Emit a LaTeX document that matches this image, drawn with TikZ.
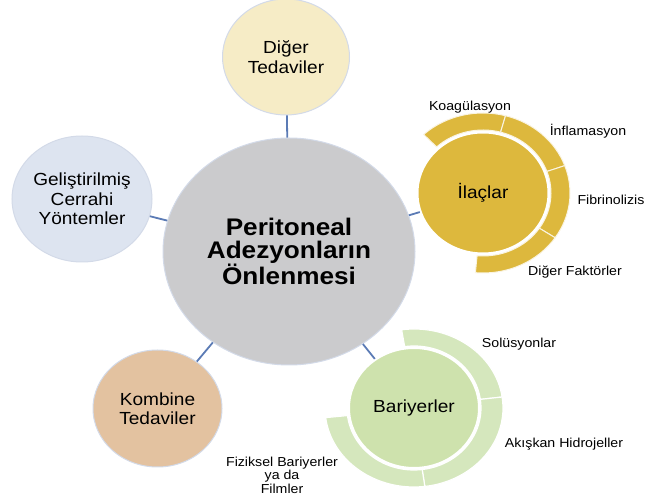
\documentclass[tikz,border=0pt]{standalone}
\usepackage{fontspec}
\setmainfont{Liberation Sans}[FakeStretch=1.09]
\usetikzlibrary{shapes.geometric}
\definecolor{centergray}{HTML}{CBCBCD}
\definecolor{dtfill}{HTML}{F6ECC6}
\definecolor{gcfill}{HTML}{DDE4F0}
\definecolor{ktfill}{HTML}{E3C2A0}
\definecolor{ilfill}{HTML}{DDB83D}
\definecolor{bafill}{HTML}{CEE2AD}
\definecolor{baring}{HTML}{D5E7BD}
\definecolor{connblue}{HTML}{5B7BB5}
\definecolor{rimcol}{HTML}{D3DAE8}
\newcommand{\ringseg}[8]{\path[#8] ([shift={(#2:#4 and #5)}]#1) arc[start angle=#2,end angle=#3,x radius=#4,y radius=#5] -- ([shift={(#3:#6 and #7)}]#1) arc[start angle=#3,end angle=#2,x radius=#6,y radius=#7] -- cycle;}
\begin{document}
\begin{tikzpicture}[x=1pt,y=1pt,
  bubble/.style={ellipse, inner sep=0pt, align=center, text=black, draw=rimcol, line width=1pt},
  inner/.style={ellipse, inner sep=0pt, align=center, text=black, draw=white, line width=2pt},
  mainfont/.style={font=\fontsize{17.5}{19.5}\selectfont},
  conn/.style={draw=connblue, line width=1.8pt},
  segil/.style={fill=ilfill, draw=white!85!ilfill, line width=1pt},
  segba/.style={fill=baring, draw=white, line width=1.2pt},
  lbl/.style={inner sep=0pt, align=center, text=black, font=\fontsize{13}{13.5}\selectfont}]
\useasboundingbox (0,0) rectangle (646,-502);
% centres of ring groups
\coordinate (ilc) at (483,-193);
\coordinate (bac) at (414,-408);
% ring segments
\ringseg{ilc}{133}{75}{87}{80}{68}{63}{segil}
\ringseg{ilc}{75}{20}{87}{80}{68}{63}{segil}
\ringseg{ilc}{20}{-34}{87}{80}{68}{63}{segil}
\ringseg{ilc}{-34}{-95}{87}{80}{68}{63}{segil}
\ringseg{bac}{98}{8}{89}{79}{67}{62}{segba}
\ringseg{bac}{8}{-83}{89}{79}{67}{62}{segba}
\ringseg{bac}{-83}{-173}{89}{79}{67}{62}{segba}
% main nodes
\node[bubble, fill=centergray, minimum width=252, minimum height=227,
      font=\fontsize{24}{22.5}\selectfont\bfseries] (c) at (289,-251.5) {Peritoneal\\Adezyonların\\Önlenmesi};
\node[bubble, mainfont, fill=dtfill, minimum width=127, minimum height=116] (dt) at (286,-57) {Diğer\\Tedaviler};
\node[bubble, mainfont, fill=gcfill, minimum width=140, minimum height=126] (gc) at (82,-199) {Geliştirilmiş\\Cerrahi\\Yöntemler};
\node[bubble, mainfont, fill=ktfill, minimum width=129, minimum height=117] (kt) at (157.5,-408.5) {Kombine\\Tedaviler};
\node[inner, mainfont, fill=ilfill, minimum width=131, minimum height=121] (il) at (ilc) {İlaçlar};
\node[inner, mainfont, fill=bafill, minimum width=130, minimum height=120] (ba) at (bac) {Bariyerler};
% connectors
\draw[conn] (c) -- (dt);
\draw[conn] (c) -- (gc);
\draw[conn] (c) -- (kt);
\draw[conn] (c) -- (il);
\draw[conn] (c) -- (ba);
% ring labels
\node[lbl] (l1) at (470,-107) {Koagülasyon};
\node[lbl] (l2) at (588,-131) {İnflamasyon};
\node[lbl] (l3) at (611,-200) {Fibrinolizis};
\node[lbl] (l4) at (575,-272) {Diğer Faktörler};
\node[lbl] (l5) at (519,-344) {Solüsyonlar};
\node[lbl] (l6) at (564,-444) {Akışkan Hidrojeller};
\node[lbl] (l7) at (282,-475) {Fiziksel Bariyerler\\ya da\\Filmler};
\end{tikzpicture}
\end{document}
